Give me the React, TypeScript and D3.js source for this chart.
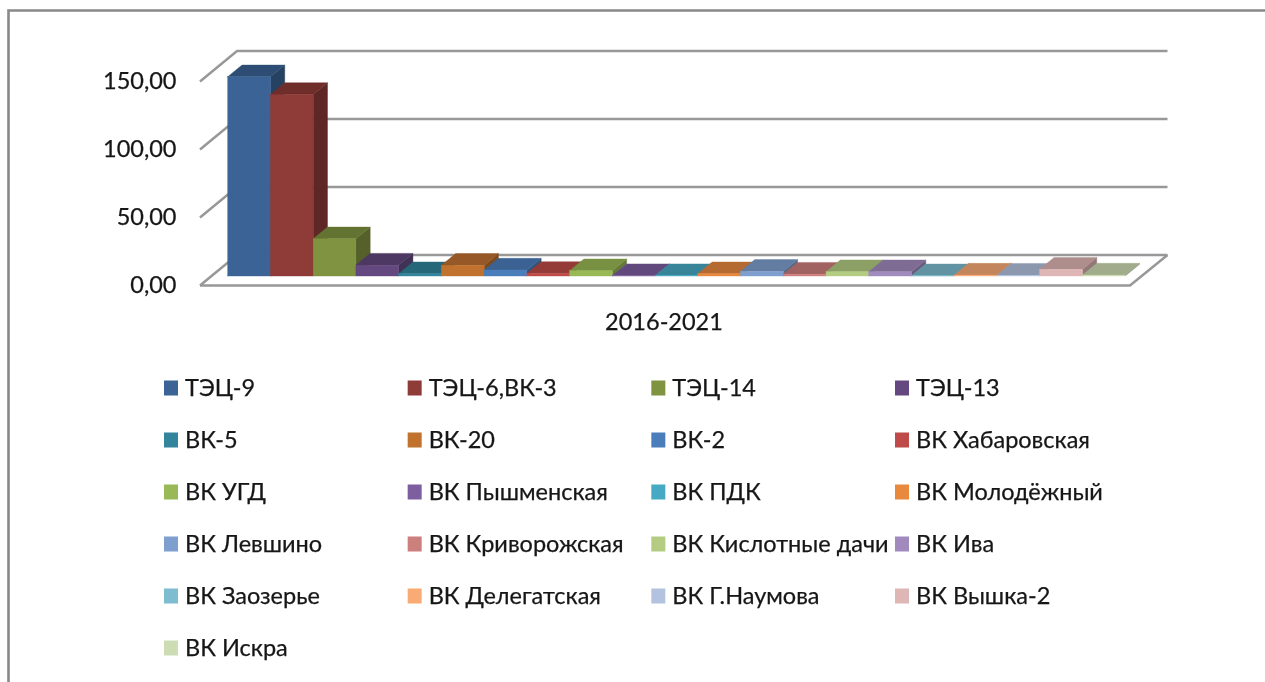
import React from "react";
import * as d3 from "d3";

const seriesNames = ["ТЭЦ-9","ТЭЦ-6,ВК-3","ТЭЦ-14","ТЭЦ-13","ВК-5","ВК-20","ВК-2","ВК Хабаровская","ВК УГД","ВК Пышменская","ВК ПДК","ВК Молодёжный","ВК Левшино","ВК Криворожская","ВК Кислотные дачи","ВК Ива","ВК Заозерье","ВК Делегатская","ВК Г.Наумова","ВК Вышка-2","ВК Искра"];
const seriesValues = [146.5,133.5,27.4,8,1.7,7.9,4.4,1.9,3.9,0.3,0.3,1.7,3.5,1.4,3.2,3.2,0.2,0.7,0.6,5,0.7];
const seriesColors = ["#3b6496","#8f3a38","#7f933f","#63487f","#31859c","#c0722f","#4a7ebb","#be4b48","#98b954","#7d5fa0","#46aac5","#e8893e","#7f9fcf","#cd7f7d","#b3cc82","#a18bbe","#7ebdd0","#f9ab75","#b3c3df","#deb6b5","#cddcb2"];
const yTicks = [0,50,100,150];
const tickLabels = ["0,00","50,00","100,00","150,00"];
const categoryLabel = "2016-2021";

const FONT = "Lato, Carlito, sans-serif";
const depthX = 14.3, depthY = 11.7;
const wallX = 37, wallY = 30.5;
const y = d3.scaleLinear().domain([0,150]).range([276,72]);
const x = d3.scaleBand<number>().domain(seriesNames.map((_,i)=>i)).range([227.7,1125.2]);
const frontAxisY = d3.scaleLinear().domain([0,150]).range([285.5,81.5]);
const legendX = d3.scalePoint<number>().domain([0,1,2,3]).range([164,895]);
const legendY = d3.scaleLinear().domain([0,1]).range([388,440]);

function shade(c:string,k:number){const r=d3.rgb(c);return d3.rgb(r.r*k,r.g*k,r.b*k).formatHex();}

export default function App(){
  const line=d3.line();
  return (
    <svg width={1265} height={682} style={{position:"absolute",left:0,top:0}}>
      <defs><filter id="soft" x="-5%" y="-5%" width="110%" height="110%"><feGaussianBlur stdDeviation="0.65"/></filter></defs>
      <g filter="url(#soft)">
        <path d="M8.5 700V10.5H1290" fill="none" stroke="#888" strokeWidth={2.6}/>
        <g stroke="#989898" strokeWidth={2.5} fill="none">
          {yTicks.map(t=>{
            const f=frontAxisY(t);
            return <path key={t} d={line([[200,f],[200+wallX,f-wallY],[1167.5,f-wallY]])!}/>;
          })}
          <path d={line([[200,285.5],[1130,285.5],[1167.5,255]])!}/>
        </g>
        {seriesValues.map((v,i)=>{
          const x0=x(i)!,x1=x0+x.bandwidth(),t=y(v),b=y(0),c=seriesColors[i];
          const side=shade(c,0.66),top=shade(c,0.78);
          return <g key={seriesNames[i]} strokeWidth={0.4}>
            <path d={line([[x1,t],[x1+depthX,t-depthY],[x1+depthX,b-depthY],[x1,b]])!+"Z"} fill={side} stroke={side}/>
            <path d={line([[x0,t],[x0+depthX,t-depthY],[x1+depthX,t-depthY],[x1,t]])!+"Z"} fill={top} stroke={top}/>
            <rect x={x0} y={t} width={x.bandwidth()} height={b-t} fill={c} stroke={c}/>
          </g>;
        })}
        <g fontFamily={FONT} fontSize={23.5} fill="#151515" stroke="#151515" strokeWidth={0.25}>
          {yTicks.map((t,i)=><text key={t} x={176.5} y={frontAxisY(t)+2} textAnchor="end" dominantBaseline="middle">{tickLabels[i]}</text>)}
          <text x={664} y={324} textAnchor="middle" dominantBaseline="middle">{categoryLabel}</text>
          {seriesNames.map((n,i)=>{
            const lx=legendX(i%4)!,ly=legendY(Math.floor(i/4));
            return <g key={n}>
              <rect x={lx} y={ly-7.5} width={14} height={15} fill={seriesColors[i]} stroke="none"/>
              <text x={lx+21} y={ly+2} dominantBaseline="middle">{n}</text>
            </g>;
          })}
        </g>
      </g>
    </svg>
  );
}
